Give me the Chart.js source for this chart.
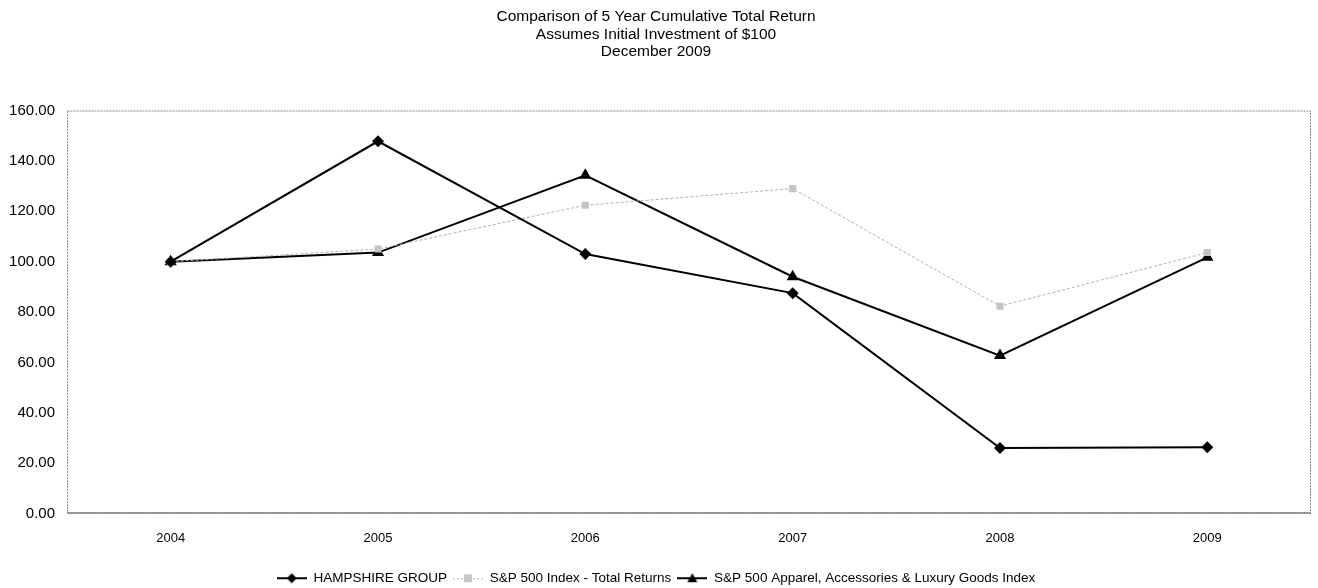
<!DOCTYPE html>
<html>
<head>
<meta charset="utf-8">
<script src="https://cdn.jsdelivr.net/npm/chart.js@4/dist/chart.umd.min.js"></script>
<style>
html,body{margin:0;padding:0;background:#fff;}
#wrap{width:1318px;height:588px;}
</style>
</head>
<body>
<div id="wrap"><canvas id="c" width="1318" height="588"></canvas></div>
<script>
const years = ['2004', '2005', '2006', '2007', '2008', '2009'];
const hampshire = [100.00, 147.8, 103.0, 87.5, 26.0, 26.3];
const sp500 = [100.00, 105.0, 122.4, 129.0, 82.3, 103.6];
const apparel = [100.00, 103.6, 134.3, 94.0, 62.7, 101.7];
const seriesNames = ['HAMPSHIRE GROUP', 'S&P 500 Index - Total Returns', 'S&P 500 Apparel, Accessories & Luxury Goods Index'];
const titleLines = ['Comparison of 5 Year Cumulative Total Return', 'Assumes Initial Investment of $100', 'December 2009'];

const FONT = "'Liberation Sans', Arial, sans-serif";

function legendIcon(kind) {
  const w = 30;
  const c = document.createElement('canvas');
  c.width = w; c.height = 14;
  const g = c.getContext('2d');
  const cy = 7, cx = w / 2;
  if (kind === 'grey') {
    g.strokeStyle = '#b0b0b0'; g.lineWidth = 1; g.setLineDash([2, 2]);
    g.beginPath(); g.moveTo(0, cy + 0.5); g.lineTo(w, cy + 0.5); g.stroke();
    g.setLineDash([]);
    g.fillStyle = '#c8c8c8'; g.fillRect(cx - 4, cy - 4, 8, 8);
  } else {
    g.strokeStyle = '#000'; g.lineWidth = 2;
    g.beginPath(); g.moveTo(0, cy); g.lineTo(w, cy); g.stroke();
    g.fillStyle = '#000';
    g.beginPath();
    if (kind === 'diamond') {
      g.moveTo(cx, cy - 5); g.lineTo(cx + 5, cy); g.lineTo(cx, cy + 5); g.lineTo(cx - 5, cy);
    } else {
      g.moveTo(cx, cy - 5); g.lineTo(cx + 5, cy + 4); g.lineTo(cx - 5, cy + 4);
    }
    g.closePath(); g.fill();
  }
  return c;
}
const icons = [legendIcon('diamond'), legendIcon('grey'), legendIcon('triangle')];

const borderPlugin = {
  id: 'plotBorder',
  beforeDatasetsDraw(chart) {
    const a = chart.chartArea, ctx = chart.ctx;
    ctx.save();
    ctx.strokeStyle = '#8a8a8a';
    ctx.lineWidth = 1;
    ctx.setLineDash([2, 1]);
    ctx.strokeRect(a.left + 0.5, a.top + 0.5, a.right - a.left - 1, a.bottom - a.top - 1);
    ctx.setLineDash([]);
    ctx.strokeStyle = '#555';
    ctx.beginPath(); ctx.moveTo(a.left, a.bottom - 0.5); ctx.lineTo(a.right, a.bottom - 0.5); ctx.stroke();
    ctx.restore();
  }
};

new Chart(document.getElementById('c'), {
  type: 'line',
  data: {
    labels: years,
    datasets: [
      { label: seriesNames[0], data: hampshire, borderColor: '#000', backgroundColor: '#000', borderWidth: 2,
        pointStyle: 'rectRot', pointRadius: 6, pointBorderWidth: 0, tension: 0 },
      { label: seriesNames[1], data: sp500, borderColor: '#b0b0b0', backgroundColor: '#c4c4c4', borderWidth: 1,
        borderDash: [3, 2], pointStyle: 'rect', pointRadius: 5, pointBorderWidth: 0, tension: 0 },
      { label: seriesNames[2], data: apparel, borderColor: '#000', backgroundColor: '#000', borderWidth: 2,
        pointStyle: 'triangle', pointRadius: 7, pointBorderWidth: 0, tension: 0 }
    ]
  },
  options: {
    responsive: false,
    animation: false,
    layout: { padding: { left: 0, right: 6, top: 0, bottom: -7 } },
    plugins: {
      tooltip: { enabled: false },
      title: {
        display: true,
        text: titleLines,
        color: '#000',
        font: { family: FONT, size: 15.5, weight: 'normal', lineHeight: 1.13 },
        padding: { top: 8, bottom: 50 }
      },
      legend: {
        position: 'bottom',
        labels: {
          color: '#000',
          font: { family: FONT, size: 13.5 },
          usePointStyle: true,
          pointStyleWidth: 30,
          padding: 6,
          generateLabels(chart) {
            return chart.data.datasets.map((ds, i) => ({
              text: ds.label, pointStyle: icons[i], datasetIndex: i,
              fillStyle: '#000', strokeStyle: '#000', lineWidth: 0, hidden: false, fontColor: '#000'
            }));
          }
        }
      }
    },
    scales: {
      x: {
        offset: true,
        grid: { display: false, drawTicks: false },
        border: { display: false },
        ticks: { color: '#000', font: { family: FONT, size: 13 }, padding: 17 },
        afterFit(s) { s.height = 52; }
      },
      y: {
        min: 0, max: 160,
        grid: { display: false, drawTicks: false },
        border: { display: false },
        ticks: { stepSize: 20, color: '#000', font: { family: FONT, size: 15 }, padding: 12,
          callback: v => Number(v).toFixed(2) },
        afterFit(s) { s.width = 67; }
      }
    }
  },
  plugins: [borderPlugin]
});
</script>
</body>
</html>
